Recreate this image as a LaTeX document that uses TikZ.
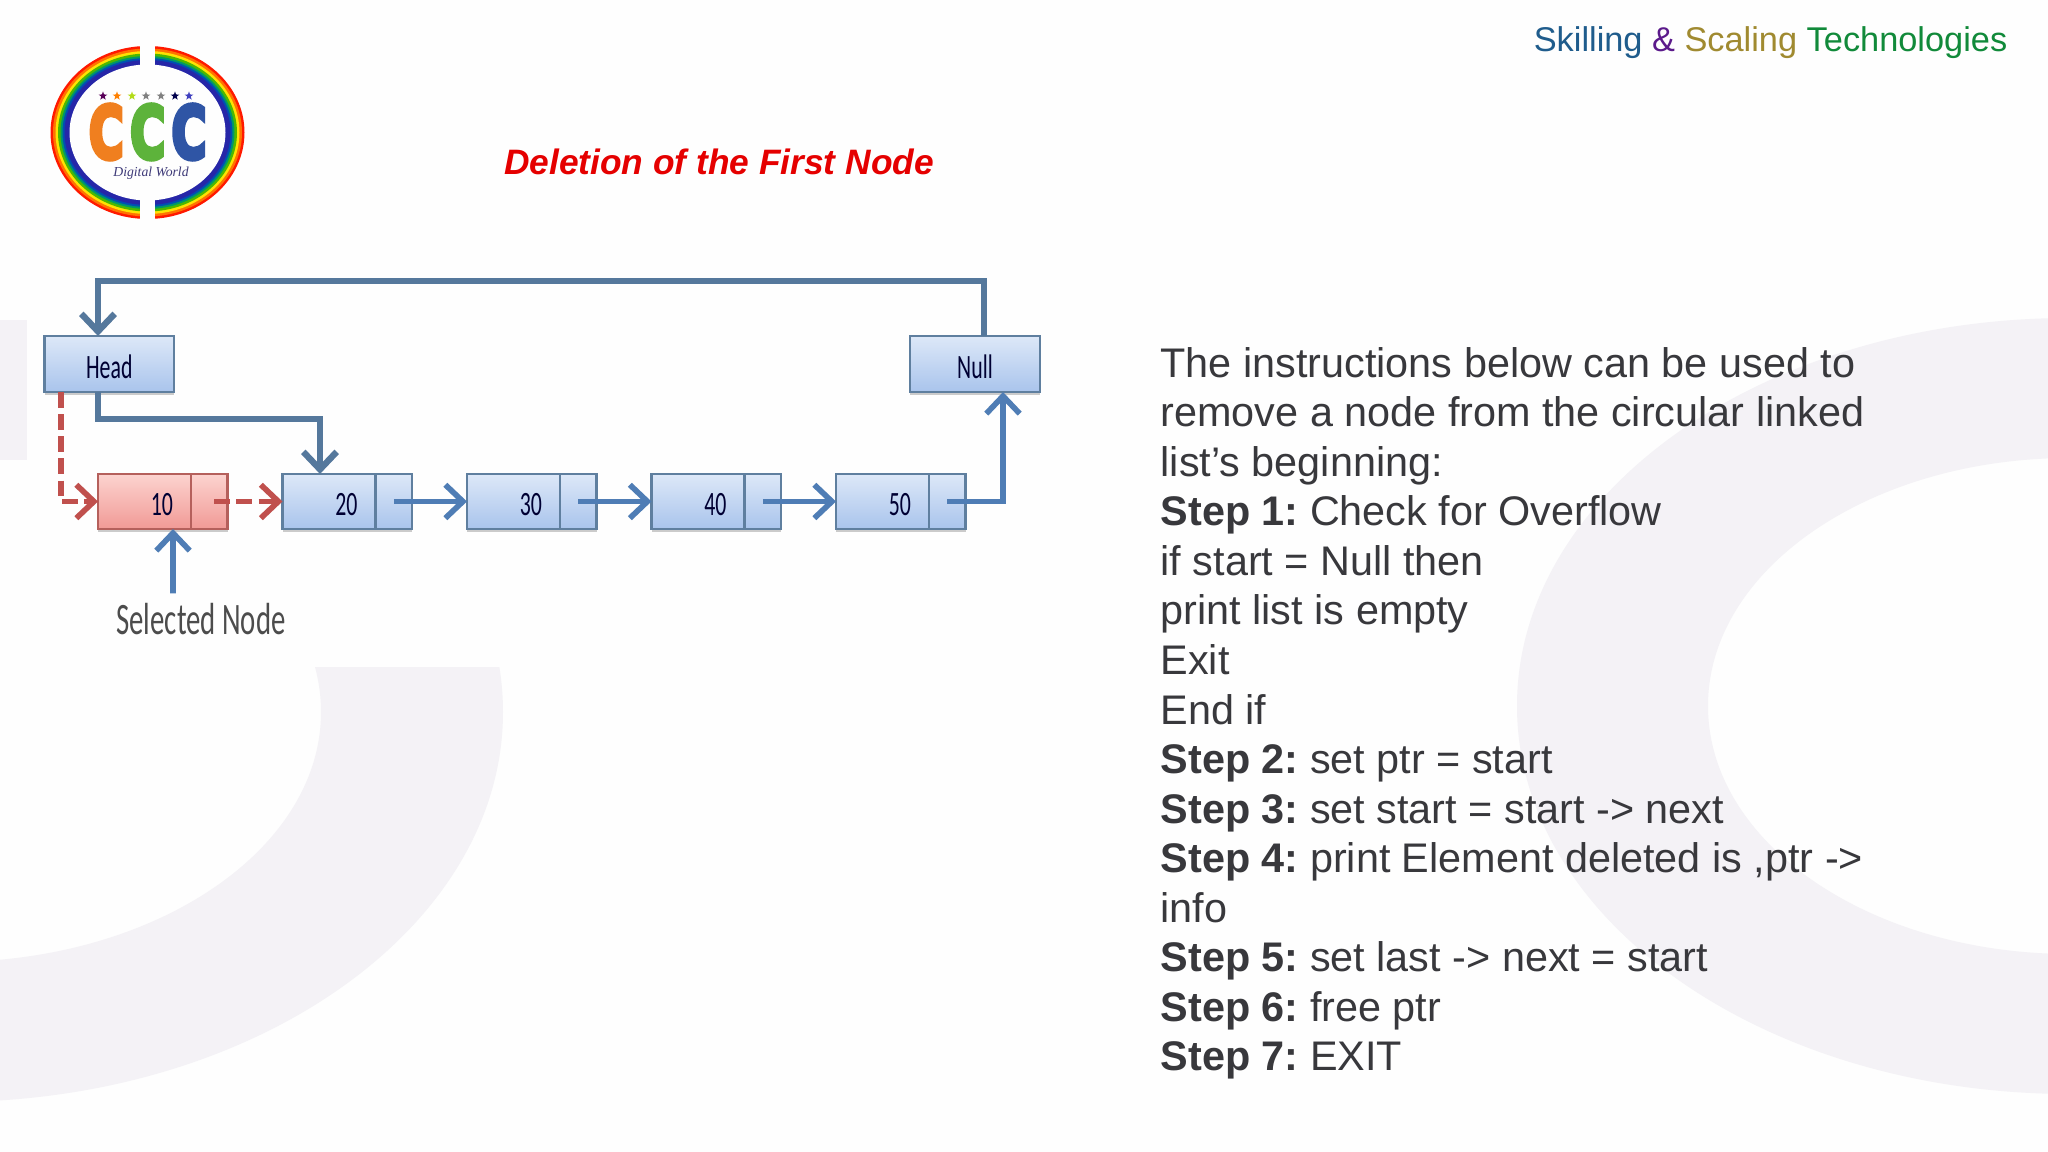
\documentclass[tikz,border=0pt]{standalone}
\usepackage{fontspec}
\usepackage{graphicx}
\usepackage{xcolor}
\setmainfont{Liberation Sans}
\newfontfamily\labelfont{Carlito}
\newfontfamily\logofont[UprightFont={* Bold}, FakeBold=7]{DejaVu Sans}
\newfontfamily\tagfont{Liberation Serif}
\usetikzlibrary{shapes.geometric, arrows.meta, positioning, shadows}
\definecolor{pagebg}{HTML}{FEFEFE}
\definecolor{markgray}{HTML}{F4F2F6}
\definecolor{bodytext}{HTML}{38383C}
\definecolor{linkblue}{HTML}{4F7DB5}
\definecolor{loopblue}{HTML}{55789C}
\definecolor{delred}{HTML}{C0504D}
\definecolor{boxedge}{HTML}{5F7F9F}
\definecolor{rededge}{HTML}{B5605C}
\definecolor{boxtop}{HTML}{DDE8F8}
\definecolor{boxbot}{HTML}{A9C4EC}
\definecolor{deltop}{HTML}{FCD3CF}
\definecolor{delbot}{HTML}{F19A96}
\definecolor{logoorange}{HTML}{F07F1F}
\definecolor{logogreen}{HTML}{5DB33B}
\definecolor{logoblue}{HTML}{2F55A5}
\definecolor{logoink}{HTML}{3E3A78}
\newcommand{\narrowtxt}[1]{\raisebox{0pt}[8pt][0pt]{\scalebox{.64}[1]{#1}}}
\newcommand{\stepno}[1]{\textbf{Step #1:}\hspace{-1.1pt}}

\begin{document}
\begin{tikzpicture}[
    node distance=0.55cm,
    >={Straight Barb[length=5pt,width=9.5pt]},
    box/.style={rectangle, draw=boxedge, line width=0.6pt, outer sep=0pt, top color=boxtop, bottom color=boxbot,
        drop shadow={shadow xshift=0pt, shadow yshift=-1pt, opacity=0.4}, font=\labelfont\fontsize{9.7}{11}\selectfont, text=black!80!blue},
    valcell/.style={box, minimum width=0.93cm, minimum height=0.55cm, inner xsep=0.18cm, inner ysep=0pt, text width=0.57cm, align=right},
    ptrcell/.style={box, minimum width=0.365cm, minimum height=0.55cm, inner sep=0pt},
    headbox/.style={box, minimum width=1.295cm, minimum height=0.56cm, inner sep=0pt},
    delcell/.style={draw=rededge, top color=deltop, bottom color=delbot},
    arrow/.style={->, line width=1.6pt, linkblue},
    looparrow/.style={arrow, loopblue, line width=1.8pt},
    delarrow/.style={->, line width=1.6pt, delred, dash pattern=on 4.5pt off 1.8pt},
    star7/.style={star, star points=5, star point ratio=2.4, fill=#1, minimum size=0.09cm, inner sep=0pt},
    logoletter/.style={font=\logofont\fontsize{20.5}{24}\selectfont, inner sep=0pt}
]
\useasboundingbox (0,0) rectangle (20.48,11.52);
\fill[pagebg] (0,0) rectangle (20.48,11.52);

\fill[markgray] (0,6.92) rectangle (0.27,8.32);
\begin{scope}
\clip (0,0) rectangle (5.2,4.84);
\fill[markgray, even odd rule] (-0.5,4.4) ellipse (5.53 and 3.9) (-0.5,4.4) ellipse (3.71 and 2.5);
\end{scope}
\begin{scope}
\clip (15,0) rectangle (20.48,11.52);
\fill[markgray, even odd rule] (20.7,4.46) ellipse (5.53 and 3.88) (20.7,4.46) ellipse (3.62 and 2.48);
\end{scope}

\foreach \d/\c in {0/red!80!orange, 0.025/orange!90!red, 0.05/yellow!85!orange, 0.075/green!60!black!70!yellow, 0.10/teal!80!green, 0.12/blue!55!cyan!70!black, 0.14/blue!60!black!85!white}
    \fill[\c] (1.475,10.195) ellipse ({0.97-\d} and {0.865-\d});
\fill[pagebg] (1.475,10.195) ellipse (0.78 and 0.68);
\fill[pagebg] (1.40,9.2) rectangle (1.553,11.2);

\node[logoletter, text=logogreen] (logoc) at (1.477,10.20) {\scalebox{.66}[1]{C}};
\node[logoletter, text=logoorange, left=0.05cm of logoc] (logoa) {\scalebox{.66}[1]{C}};
\node[logoletter, text=logoblue, right=0.05cm of logoc] (logob) {\scalebox{.66}[1]{C}};
\node[font=\tagfont\itshape\fontsize{3.9}{5}\selectfont, text=logoink, inner sep=0pt] (logotag) at (1.51,9.79) {Digital World};
\foreach \i/\x/\c in {1/1.03/violet!70!black, 2/1.17/orange, 3/1.32/yellow!70!green, 4/1.46/gray, 5/1.61/gray, 6/1.75/black!70!blue, 7/1.89/blue!50!gray}
    \node[star7=\c] (star\i) at (\x,10.56) {};

\node[font=\fontsize{9.77}{11}\selectfont, inner sep=0pt] (brand) at (17.705,11.09) {\textcolor[HTML]{1F5C8C}{Skilling} \textcolor[HTML]{5B1A8B}{\&} \textcolor[HTML]{A08A30}{Scaling} \textcolor[HTML]{118A3A}{Technologies}};
\node[font=\bfseries\itshape\fontsize{10.05}{12}\selectfont, text=red!90!black, inner sep=0pt] (title) at (7.19,9.90) {Deletion of the First Node};

\node[headbox] (head) at (1.093,7.88) {\narrowtxt{Head}};
\node[headbox] (null) at (9.75,7.88) {\narrowtxt{Null}};

\node[valcell, delcell] (val10) at (1.445,6.505) {\narrowtxt{10}};
\node[ptrcell, delcell, right=0pt of val10] (ptr10) {};
\node[valcell, right=of ptr10] (val20) {\narrowtxt{20}};
\node[ptrcell, right=0pt of val20] (ptr20) {};
\node[valcell, right=of ptr20] (val30) {\narrowtxt{30}};
\node[ptrcell, right=0pt of val30] (ptr30) {};
\node[valcell, right=of ptr30] (val40) {\narrowtxt{40}};
\node[ptrcell, right=0pt of val40] (ptr40) {};
\node[valcell, right=of ptr40] (val50) {\narrowtxt{50}};
\node[ptrcell, right=0pt of val50] (ptr50) {};
\node[font=\labelfont\fontsize{12.8}{14}\selectfont, text=black!70, inner sep=0pt] (selected) at (2.01,5.33) {\scalebox{.64}[1]{Selected Node}};

\draw[looparrow] ([xshift=0.09cm]null.north) -- ++(0,0.55) -| ([xshift=-0.113cm]head.north);
\draw[looparrow] ([xshift=-0.113cm]head.south) -- ++(0,-0.27) -| ([xshift=-0.09cm]val20.north);
\draw[delarrow] ([xshift=0.165cm]head.south west) |- (val10.west);
\draw[delarrow] ([xshift=0.05cm]ptr10.center) -- (val20.west);
\draw[arrow] (ptr20.center) -- (val30.west);
\draw[arrow] (ptr30.center) -- (val40.west);
\draw[arrow] (ptr40.center) -- (val50.west);
\draw[arrow] (ptr50.center) -| ([xshift=0.28cm]null.south);
\draw[arrow] ([xshift=-0.28cm,yshift=0.09cm]selected.north) -- ([xshift=0.285cm]val10.south);

\node[anchor=north west, align=left, inner sep=0pt, text=bodytext, font=\fontsize{11.77}{14.1}\selectfont] (steps) at (11.60,8.055) {The instructions below can be used to\\
remove a node from the circular linked\\
list’s beginning:\\
\stepno{1} Check for Overflow\\
if start = Null then\\
print list is empty\\
Exit\\
End if\\
\stepno{2} set ptr = start\\
\stepno{3} set start = start -> next\\
\stepno{4} print Element deleted is ,ptr ->\\
info\\
\stepno{5} set last -> next = start\\
\stepno{6} free ptr\\
\stepno{7} EXIT};
\end{tikzpicture}
\end{document}
